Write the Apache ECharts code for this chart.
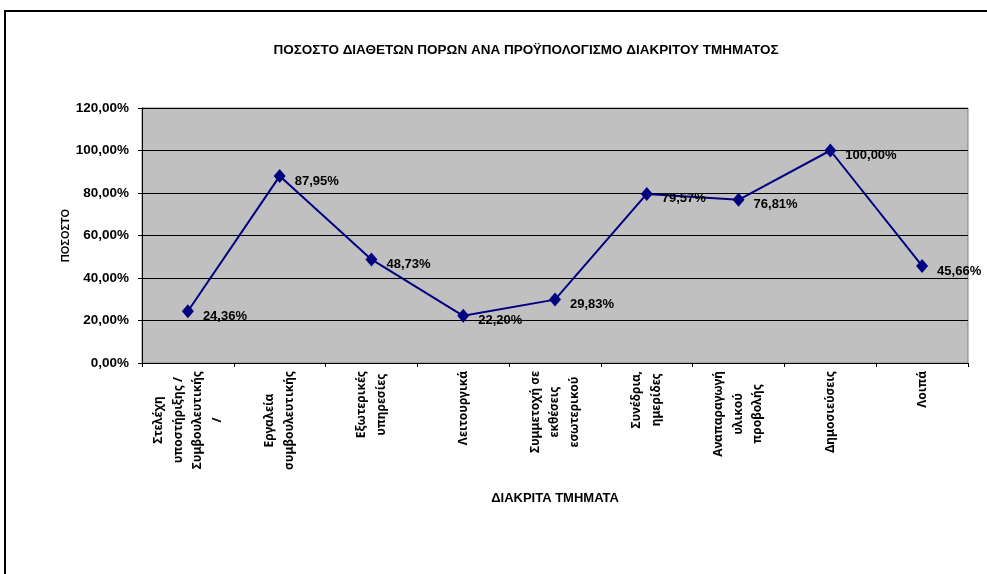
<!DOCTYPE html>
<html>
<head>
<meta charset="utf-8">
<script src="https://cdn.jsdelivr.net/npm/echarts@6/dist/echarts.min.js"></script>
<style>
html,body{margin:0;padding:0;background:#fff;}
#chart{width:987px;height:574px;}
</style>
</head>
<body>
<div id="chart"></div>
<script>
const categories = [
  "Στελέχη\nυποστήριξης /\nΣυμβουλευτικής\n/",
  "Εργαλεία\nσυμβουλευτικής",
  "Εξωτερικές\nυπηρεσίες",
  "Λειτουργικά",
  "Συμμετοχή σε\nεκθέσεις\nεσωτερικού",
  "Συνέδρια,\nημερίδες",
  "Αναπαραγωγή\nυλικού\nπροβολής",
  "Δημοσιεύσεις",
  "Λοιπά"
];
const percentValues = [24.36, 87.95, 48.73, 22.20, 29.83, 79.57, 76.81, 100.00, 45.66];
const yTicks = [0, 20, 40, 60, 80, 100, 120];
const titleText = "ΠΟΣΟΣΤΟ ΔΙΑΘΕΤΩΝ ΠΟΡΩΝ ΑΝΑ ΠΡΟΫΠΟΛΟΓΙΣΜΟ ΔΙΑΚΡΙΤΟΥ ΤΜΗΜΑΤΟΣ";
const yName = "ΠΟΣΟΣΤΟ";
const xName = "ΔΙΑΚΡΙΤΑ ΤΜΗΜΑΤΑ";

const fmt = v => v.toFixed(2).replace('.', ',') + '%';
const ARIAL = '"Liberation Sans", Arial, sans-serif';
const CATFONT = '"Noto Sans", "DejaVu Sans", sans-serif';

const chart = echarts.init(document.getElementById('chart'), null, {renderer: 'canvas'});
chart.setOption({
  backgroundColor: '#ffffff',
  animation: false,
  title: {
    text: titleText,
    left: 521,
    top: 38,
    textAlign: 'center',
    textStyle: {fontFamily: ARIAL, fontWeight: 'bold', fontSize: 13.5, color: '#000'}
  },
  graphic: [{
    type: 'rect',
    shape: {x: 5, y: 11, width: 1100, height: 700},
    style: {fill: 'none', stroke: '#000', lineWidth: 2},
    silent: true
  }],
  grid: {
    left: 142, right: 19, top: 108, bottom: 211,
    show: true, backgroundColor: '#c0c0c0', borderColor: '#808080', borderWidth: 1
  },
  xAxis: {
    type: 'category',
    data: categories,
    boundaryGap: true,
    name: xName,
    nameLocation: 'middle',
    nameGap: 129,
    nameMoveOverlap: false,
    nameTextStyle: {fontFamily: ARIAL, fontWeight: 'bold', fontSize: 13, color: '#000'},
    axisLine: {lineStyle: {color: '#000', width: 1}},
    axisTick: {show: true, length: 4, lineStyle: {color: '#000'}},
    axisLabel: {
      interval: 0,
      rotate: 90,
      margin: 8,
      fontFamily: CATFONT, fontWeight: 'bold', fontSize: 12, lineHeight: 19.5, color: '#000',
      formatter: v => v.split('\n').map(l => '{c|' + l + '}').join('\n'),
      rich: {
        c: {align: 'center', fontFamily: CATFONT, fontWeight: 'bold', fontSize: 12, lineHeight: 19.5, color: '#000'}
      }
    }
  },
  yAxis: {
    type: 'value',
    min: yTicks[0],
    max: yTicks[yTicks.length - 1],
    interval: yTicks[1] - yTicks[0],
    name: yName,
    nameLocation: 'middle',
    nameGap: 71,
    nameMoveOverlap: false,
    nameRotate: 90,
    nameTextStyle: {fontFamily: ARIAL, fontWeight: 'bold', fontSize: 11, color: '#000'},
    axisLine: {show: true, lineStyle: {color: '#000', width: 1}},
    axisTick: {show: true, length: 4, lineStyle: {color: '#000'}},
    axisLabel: {
      formatter: fmt,
      margin: 13,
      fontFamily: ARIAL, fontWeight: 'bold', fontSize: 13.5, color: '#000'
    },
    splitLine: {show: true, lineStyle: {color: '#000', width: 1}}
  },
  series: [{
    type: 'line',
    data: percentValues,
    symbol: 'diamond',
    symbolSize: [12, 14],
    lineStyle: {color: '#000080', width: 2},
    itemStyle: {color: '#000080'},
    label: {
      show: true,
      position: 'right',
      distance: 9,
      offset: [0, 5],
      formatter: p => fmt(p.value),
      fontFamily: ARIAL, fontWeight: 'bold', fontSize: 13, color: '#000'
    }
  }]
});
</script>
</body>
</html>
